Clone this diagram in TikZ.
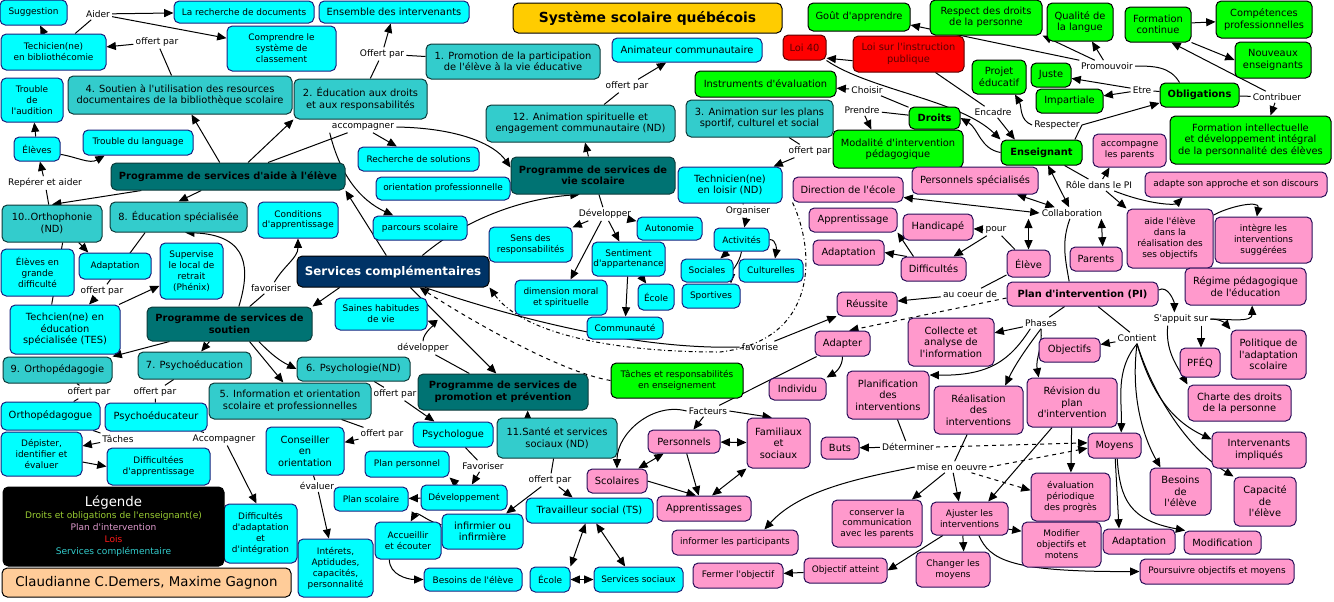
\documentclass[tikz,border=0pt]{standalone}
\usepackage{fontspec}
\setmainfont{DejaVu Sans}[Ligatures=TeXOff]
\usetikzlibrary{arrows.meta,backgrounds}
\definecolor{cyF}{HTML}{00FFFF}
\definecolor{cyD}{HTML}{1A237E}
\definecolor{teF}{HTML}{33CCCC}
\definecolor{teD}{HTML}{0D3B3B}
\definecolor{dtF}{HTML}{007373}
\definecolor{grF}{HTML}{00FF00}
\definecolor{pkF}{HTML}{FF99CC}
\definecolor{pkD}{HTML}{2A0F5A}
\definecolor{rdF}{HTML}{FF0000}
\definecolor{rdT}{HTML}{5A0000}
\definecolor{orF}{HTML}{FFCC00}
\definecolor{nvF}{HTML}{003366}
\definecolor{peF}{HTML}{FFCC99}
\definecolor{lgG}{HTML}{99CC33}
\definecolor{lgP}{HTML}{DD99CC}
\definecolor{lgR}{HTML}{FF1A1A}
\definecolor{lgC}{HTML}{33CCCC}
\newcommand\ftL{\fontsize{7.4}{8.6}\selectfont}
\newcommand\ftS{\fontsize{6.7}{8.2}\selectfont}
\tikzset{
  every node/.style={align=center, inner sep=1pt, font=\ftL},
  bb/.style n args={4}{minimum width={(#2-#1)*0.75pt}, minimum height={(#4-#3)*0.75pt}, at={({(#1+#2)/2},{(#3+#4)/2})}},
  rbox/.style={rounded corners=4pt, line width=0.75pt},
  cy/.style={rbox, fill=cyF, draw=cyD},
  te/.style={rbox, fill=teF, draw=teD},
  dt/.style={rbox, fill=dtF, draw=teD, font=\ftL\bfseries},
  gr/.style={rbox, fill=grF, draw=black},
  pk/.style={rbox, fill=pkF, draw=pkD},
  rd/.style={rbox, fill=rdF, draw=rdT, text=rdT},
  sm/.style={font=\ftS},
  lab/.style={font=\fontsize{6.8}{8}\selectfont, inner sep=1.5pt},
  ln/.style={draw, line width=0.75pt},
  ar/.style={ln, -{Triangle[length=7pt,width=6pt]}},
  ar2/.style={ln, {Triangle[length=7pt,width=6pt]}-{Triangle[length=7pt,width=6pt]}},
}
\begin{document}
\begin{tikzpicture}[x=0.75pt,y=-0.75pt]
\useasboundingbox (0,0) rectangle (1334,601);
% ---------- boxes ----------
\node[cy,sm,bb={0}{67}{0}{25}] (sugg) {Suggestion};
\node[cy,sm,bb={1}{106}{34}{70}] (techbib) {Techicien(ne)\\en bibliothécomie};
\node[cy,sm,bb={174}{314}{1}{23}] (recdoc) {La recherche de documents};
\node[cy,bb={319}{469}{1}{23}] (ensint) {Ensemble des intervenants};
\node[cy,sm,bb={227}{336}{26}{71}] (compr) {Comprendre le\\système de\\classement};
\node[te,bb={68}{292}{76}{114}] (soutien4) {4. Soutien à l'utilisation des resources\\documentaires de la bibliothèque scolaire};
\node[cy,sm,bb={1}{63}{78}{122}] (troubaud) {Trouble\\de\\l'audition};
\node[cy,sm,bb={14}{60}{137}{161}] (eleves) {Élèves};
\node[cy,sm,bb={83}{193}{130}{155}] (troublang) {Trouble du language};
\node[dt,bb={111}{345}{163}{190}] (progaide) {Programme de services d'aide à l'élève};
\node[te,bb={294}{427}{79}{119}] (educ2) {2. Éducation aux droits\\et aux responsabilités};
\node[te,bb={426}{600}{44}{79}] (promo1) {1. Promotion de la participation\\de l'élève à la vie éducative};
\node[cy,sm,bb={358}{479}{147}{171}] (rechsol) {Recherche de solutions};
\node[cy,sm,bb={376}{510}{177}{200}] (orientpro) {orientation professionnelle};
\node[dt,bb={511}{675}{157}{194}] (progvie) {Programme de services de\\vie scolaire};
\node[rbox,fill=orF,draw=black,bb={513}{782}{3}{33},font=\fontsize{10.4}{12}\selectfont\bfseries] (title) {Système scolaire québécois};
\node[cy,bb={612}{762}{38}{62}] (animcom) {Animateur communautaire};
\node[te,bb={486}{675}{105}{142}] (anim12) {12. Animation spirituelle et\\engagement communautaire (ND)};
\node[gr,bb={808}{910}{3}{31}] (gout) {Goût d'apprendre};
\node[gr,bb={930}{1042}{0}{35}] (respect) {Respect des droits\\de la personne};
\node[gr,bb={1047}{1113}{3}{41}] (qualite) {Qualité de\\la langue};
\node[gr,bb={1125}{1191}{7}{42}] (formcont) {Formation\\continue};
\node[gr,bb={1216}{1312}{1}{38}] (compet) {Compétences\\professionnelles};
\node[gr,bb={1235}{1311}{42}{78}] (nouveaux) {Nouveaux\\enseignants};
\node[rd,bb={783}{826}{35}{60}] (loi40) {Loi 40};
\node[rd,bb={853}{964}{36}{72}] (loiinst) {Loi sur l'instruction\\publique};
\node[gr,bb={972}{1026}{60}{94}] (projet) {Projet\\éducatif};
\node[gr,bb={1031}{1071}{63}{87}] (juste) {Juste};
\node[gr,bb={1036}{1103}{89}{113}] (impart) {Impartiale};
\node[gr,bb={1160}{1239}{83}{107},font=\ftL\bfseries] (oblig) {Obligations};
\node[gr,bb={1170}{1331}{116}{164}] (formint) {Formation intellectuelle\\et développement intégral\\de la personnalité des élèves};
\node[gr,bb={695}{836}{71}{97}] (instr) {Instruments d'évaluation};
\node[gr,bb={909}{960}{107}{129},font=\ftL\bfseries] (droits) {Droits};
\node[te,bb={686}{833}{100}{137}] (anim3) {3. Animation sur les plans\\sportif, culturel et social};
\node[gr,bb={833}{963}{130}{168}] (modal) {Modalité d'intervention\\pédagogique};
\node[gr,bb={1001}{1082}{140}{165},font=\ftL\bfseries] (enseig) {Enseignant};
\node[pk,sm,bb={1093}{1166}{134}{167}] (accpar) {accompagne\\les parents};
\node[cy,bb={678}{782}{167}{203}] (techlois) {Technicien(ne)\\en loisir (ND)};
\node[pk,bb={793}{903}{177}{202}] (direction) {Direction de l'école};
\node[pk,bb={912}{1038}{167}{194}] (perspec) {Personnels spécialisés};
\node[pk,sm,bb={1145}{1327}{172}{197}] (adapte) {adapte son approche et son discours};
\node[pk,sm,bb={1127}{1213}{209}{268}] (aideel) {aide l'élève\\dans la\\réalisation des\\ses objectifs};
\node[pk,sm,bb={1215}{1312}{217}{263}] (integre) {intègre les\\interventions\\suggérées};
\node[pk,bb={1070}{1122}{247}{271}] (parents) {Parents};
\node[pk,bb={1007}{1050}{250}{277}] (eleve) {Élève};
\node[pk,bb={1007}{1158}{282}{306},font=\ftL\bfseries] (pi) {Plan d'intervention (PI)};
\node[pk,bb={1185}{1306}{268}{305}] (regime) {Régime pédagogique\\de l'éducation};
\node[pk,bb={1231}{1306}{330}{379}] (politique) {Politique de\\l'adaptation\\scolaire};
\node[pk,bb={1180}{1220}{348}{377}] (pfeq) {PFÉQ};
\node[pk,bb={1039}{1100}{338}{362}] (objectifs) {Objectifs};
\node[pk,bb={1188}{1291}{385}{421}] (charte) {Charte des droits\\de la personne};
\node[pk,bb={1212}{1306}{432}{468}] (intervenants) {Intervenants\\impliqués};
\node[pk,bb={1150}{1211}{468}{515}] (besoins) {Besoins\\de\\l'élève};
\node[pk,bb={1234}{1296}{477}{526}] (capacite) {Capacité\\de\\l'élève};
\node[pk,bb={1184}{1261}{531}{554}] (modification) {Modification};
\node[pk,bb={1103}{1175}{529}{554}] (adaptR) {Adaptation};
\node[pk,bb={1088}{1141}{433}{458}] (moyens) {Moyens};
\node[pk,bb={1027}{1117}{378}{427}] (revision) {Révision du\\plan\\d'intervention};
\node[pk,bb={934}{1023}{386}{434}] (realisation) {Réalisation\\des\\interventions};
\node[pk,bb={908}{994}{318}{366}] (collecte) {Collecte et\\analyse de\\l'information};
\node[pk,bb={847}{929}{371}{419}] (planif) {Planification\\des\\interventions};
\node[pk,sm,bb={1031}{1110}{473}{521}] (evalper) {évaluation\\périodique\\des progrès};
\node[pk,sm,bb={1022}{1101}{522}{567}] (modifier) {Modifier\\objectifs et\\motens};
\node[pk,sm,bb={1140}{1294}{559}{584}] (poursuivre) {Poursuivre objectifs et moyens};
\node[pk,sm,bb={931}{1008}{502}{535}] (ajuster) {Ajuster les\\interventions};
\node[pk,sm,bb={916}{990}{552}{587}] (changer) {Changer les\\moyens};
\node[pk,sm,bb={832}{922}{500}{547}] (conserver) {conserver la\\communication\\avec les parents};
\node[pk,sm,bb={804}{887}{558}{583}] (objatt) {Objectif atteint};
\node[pk,sm,bb={693}{783}{563}{588}] (fermer) {Fermer l'objectif};
\node[pk,sm,bb={672}{798}{530}{555}] (informer) {informer les participants};
\node[pk,bb={821}{859}{437}{459}] (buts) {Buts};
\node[pk,bb={648}{720}{430}{453}] (personnels) {Personnels};
\node[pk,bb={747}{810}{418}{468}] (familiaux) {Familiaux\\et\\sociaux};
\node[pk,bb={587}{647}{469}{493}] (scolaires) {Scolaires};
\node[pk,bb={657}{751}{496}{521}] (apprentissages) {Apprentissages};
\node[pk,bb={769}{826}{378}{400}] (individu) {Individu};
\node[pk,bb={815}{870}{331}{356}] (adapter) {Adapter};
\node[pk,bb={837}{897}{292}{316}] (reussite) {Réussite};
\node[pk,bb={903}{973}{214}{240}] (handicap) {Handicapé};
\node[pk,bb={809}{897}{208}{232}] (apprent) {Apprentissage};
\node[pk,bb={813}{884}{240}{265}] (adaptL) {Adaptation};
\node[pk,bb={901}{966}{257}{281}] (difficultes) {Difficultés};
\node[gr,sm,bb={611}{743}{363}{398}] (taches) {Tâches et responsabilités\\en enseignement};
\node[cy,sm,bb={714}{769}{228}{251}] (activites) {Activités};
\node[cy,sm,bb={637}{702}{217}{240}] (autonomie) {Autonomie};
\node[cy,sm,bb={489}{572}{227}{262}] (sensresp) {Sens des\\responsabilités};
\node[cy,sm,bb={592}{665}{242}{276}] (sentiment) {Sentiment\\d'appartenance};
\node[cy,sm,bb={638}{674}{284}{310}] (ecoleA) {École};
\node[cy,sm,bb={681}{733}{259}{282}] (sociales) {Sociales};
\node[cy,sm,bb={739}{803}{259}{282}] (culturelles) {Culturelles};
\node[cy,sm,bb={682}{740}{284}{308}] (sportives) {Sportives};
\node[cy,sm,bb={515}{607}{280}{315}] (dimension) {dimension moral\\et spirituelle};
\node[cy,sm,bb={587}{663}{317}{339}] (communaute) {Communauté};
\node[cy,sm,bb={373}{467}{216}{240}] (parcours) {parcours scolaire};
\node[rbox,fill=nvF,draw=black,text=white,bb={297}{489}{256}{287},font=\fontsize{8.9}{10}\selectfont\bfseries] (servcomp) {Services complémentaires};
\node[cy,sm,bb={335}{427}{298}{330}] (saines) {Saines habitudes\\de vie};
\node[dt,bb={418}{588}{374}{410}] (progpromo) {Programme de services de\\promotion et prévention};
\node[te,bb={497}{617}{418}{458}] (sante11) {11.Santé et services\\sociaux (ND)};
\node[cy,bb={413}{493}{422}{447}] (psychologue) {Psychologue};
\node[cy,bb={266}{344}{427}{475}] (conseiller) {Conseiller\\en\\orientation};
\node[cy,sm,bb={365}{449}{451}{477}] (planperso) {Plan personnel};
\node[cy,sm,bb={421}{507}{485}{510}] (developpement) {Développement};
\node[cy,sm,bb={334}{408}{487}{511}] (planscol) {Plan scolaire};
\node[cy,bb={442}{523}{514}{549}] (infirmier) {infirmier ou\\infirmière};
\node[cy,sm,bb={375}{441}{522}{559}] (accueillir) {Accueillir\\et écouter};
\node[cy,sm,bb={424}{522}{568}{591}] (besoinsC) {Besoins de l'élève};
\node[cy,bb={526}{653}{498}{523}] (ts) {Travailleur social (TS)};
\node[cy,sm,bb={530}{570}{567}{592}] (ecoleB) {École};
\node[cy,sm,bb={594}{683}{567}{592}] (servsoc) {Services sociaux};
\node[cy,sm,bb={298}{373}{539}{597}] (interets) {Intérets,\\Aptidudes,\\capacités,\\personnalité};
\node[cy,sm,bb={224}{297}{504}{563}] (diffadapt) {Difficultés\\d'adaptation\\et\\d'intégration};
\node[te,bb={209}{371}{383}{419}] (info5) {5. Information et orientation\\scolaire et professionnelles};
\node[te,bb={297}{410}{357}{381}] (psycho6) {6. Psychologie(ND)};
\node[te,bb={138}{251}{352}{379}] (psychoed7) {7. Psychoéducation};
\node[te,bb={3}{112}{357}{383}] (orthoped9) {9. Orthopédagogie};
\node[dt,bb={147}{312}{307}{341}] (progsout) {Programme de services de\\soutien};
\node[cy,bb={10}{120}{305}{354}] (tes) {Techcien(ne) en\\éducation\\spécialisée (TES)};
\node[cy,sm,bb={160}{223}{243}{299}] (supervise) {Supervise\\le local de\\retrait\\(Phénix)};
\node[cy,sm,bb={79}{151}{253}{279}] (adaptC) {Adaptation};
\node[cy,sm,bb={1}{74}{249}{296}] (elevesgd) {Élèves en\\grande\\difficulté};
\node[te,bb={2}{102}{205}{242}] (ortho10) {10..Orthophonie\\(ND)};
\node[te,bb={110}{247}{202}{232}] (educspe8) {8. Éducation spécialisée};
\node[cy,sm,bb={258}{338}{202}{238}] (conditions) {Conditions\\d'apprentissage};
\node[cy,bb={1}{100}{402}{430}] (orthopedagogue) {Orthopédagogue};
\node[cy,bb={105}{207}{403}{431}] (psychoeducateur) {Psychoéducateur};
\node[cy,sm,bb={1}{82}{432}{476}] (depister) {Dépister,\\identifier et\\évaluer};
\node[cy,sm,bb={107}{210}{448}{485}] (diffapp) {Difficultées\\d'apprentissage};
\node[rbox,fill=black,draw=black,bb={3}{224}{487}{566},font=\fontsize{6.8}{9}\selectfont] (legend) {{\fontsize{10}{12}\selectfont\color{white}Légende}\\{\color{lgG}Droits et obligations de l'enseignant(e)}\\{\color{lgP}Plan d'intervention}\\{\color{lgR}Lois}\\{\color{lgC}Services complémentaire}};
\node[rbox,fill=peF,draw=black,bb={2}{291}{568}{597},font=\fontsize{10}{12}\selectfont] (authors) {Claudianne C.Demers, Maxime Gagnon};
% ---------- linking phrases ----------
\node[lab] (aider) at (98,14) {Aider};
\node[lab] (offbib) at (157,42) {offert par};
\node[lab] (reperer) at (45,183) {Repérer et aider};
\node[lab] (offens) at (382,54) {Offert par};
\node[lab] (accomp) at (363,127) {accompagner};
\node[lab] (offanim) at (627,86) {offert par};
\node[lab] (promouv) at (1107,66) {Promouvoir};
\node[lab] (etre) at (1142,90) {Etre};
\node[lab] (contrib) at (1277,97) {Contribuer};
\node[lab] (choisir) at (867,90) {Choisir};
\node[lab] (prendre) at (862,110) {Prendre};
\node[lab] (encadre) at (993,112) {Encadre};
\node[lab] (respecter) at (1057,125) {Respecter};
\node[lab] (offloisir) at (810,151) {offert par};
\node[lab] (role) at (1099,185) {Rôle dans le PI};
\node[lab] (collab) at (1072,213) {Collaboration};
\node[lab] (appuit) at (1181,319) {S'appuit sur};
\node[lab] (contient) at (1137,338) {Contient};
\node[lab] (phases) at (1041,323) {Phases};
\node[lab] (miseoeuvre) at (952,467) {mise en oeuvre};
\node[lab] (determiner) at (908,447) {Déterminer};
\node[lab] (facteurs) at (708,411) {Facteurs};
\node[lab] (coeur) at (970,294) {au coeur de};
\node[lab] (pour) at (996,230) {pour};
\node[lab] (favorise) at (760,347) {favorise};
\node[lab] (organiser) at (748,211) {Organiser};
\node[lab] (developper) at (605,214) {Développer};
\node[lab] (devlabel) at (423,348) {développer};
\node[lab] (offpsy) at (395,394) {offert par};
\node[lab] (offcons) at (382,434) {offert par};
\node[lab] (favoriserP) at (483,466) {Favoriser};
\node[lab] (offts) at (550,480) {offert par};
\node[lab] (evaluer) at (317,486) {évaluer};
\node[lab] (accompB) at (224,439) {Accompagner};
\node[lab] (favoriserS) at (271,288) {favoriser};
\node[lab] (offtes) at (102,291) {offert par};
\node[lab] (off9) at (89,392) {offert par};
\node[lab] (off7) at (155,392) {offert par};
\node[lab] (tachesL) at (118,439) {Tâches};
% ---------- connectors ----------
\begin{pgfonlayer}{background}
\fill[white] (0,0) rectangle (1334,601);
\draw[ar] (techbib) -- (sugg);
\draw[ln] (techbib) -- (aider);
\draw[ar] (aider) -- (recdoc);
\draw[ar] (aider) -- (compr);
\draw[ln] (soutien4) -- (offbib);
\draw[ar] (offbib) -- (techbib);
\draw[ar] (progaide) -- (soutien4);
\draw[ar] ([xshift=15pt]progaide.north) -- (educ2.south west);
\draw[ln] ([xshift=30pt]progaide.north) -- (accomp);
\draw[ar] (accomp) -- (rechsol);
\draw[ar] (accomp.east) .. controls (460,128) and (495,145) .. ([yshift=6pt]progvie.west);
\draw[ar] (accomp.south west) .. controls (340,175) and (360,200) .. ([xshift=-20pt]parcours.north);
\draw[ar] ([xshift=-5pt]servcomp.north) -- (progaide.south east);
\draw[ar] ([xshift=22pt]servcomp.north) .. controls (470,215) and (530,198) .. ([xshift=-10pt]progvie.south);
\draw[ar] (progvie) -- (anim12);
\draw[ln] (anim12) -- (offanim);
\draw[ar] (offanim) -- (animcom);
\draw[ln] (educ2) -- (offens);
\draw[ar] (offens) -- (ensint);
\draw[ln] (promo1) -- (offens);
\draw[ln] (anim3) -- (offloisir);
\draw[ar] (offloisir) -- (techlois);
\draw[ln] (progvie) -- (developper);
\draw[ar] (developper) -- (sensresp);
\draw[ar] (developper) -- (dimension);
\draw[ar] (developper) -- (sentiment);
\draw[ar] (developper) -- (autonomie);
\draw[ln] (techlois) -- (organiser);
\draw[ar] (organiser) -- (activites);
\draw[ar] (activites) -- (sociales);
\draw[ar] (activites.south) to[out=-100,in=90] ([xshift=15pt]sportives.north);
\draw[ar] (activites.east) to[out=0,in=80] ([xshift=3pt]culturelles.north);
\draw[ar] (sentiment) -- (communaute);
\draw[ar] (sentiment) -- (ecoleA);
\draw[ar,dash dot] (direction.south west) .. controls (815,250) and (820,340) .. (720,352) .. controls (600,352) and (520,330) .. (servcomp.south east);
\draw[ln] ([xshift=24pt]servcomp.south) .. controls (520,320) and (640,350) .. (favorise.west);
\draw[ar] (favorise) -- (reussite);
\draw[ar,dashed] (taches.west) .. controls (560,372) and (470,320) .. ([xshift=20pt]servcomp.south);
\draw[ar] ([xshift=13pt]servcomp.south) -- ([xshift=-5pt]progpromo.north);
\draw[ln] (progpromo) -- (devlabel);
\draw[ar] (devlabel.north) to[out=90,in=-20] ([yshift=-5pt]saines.east);
\draw[ar] ([xshift=-40pt]servcomp.south) -- (progsout.north east);
\draw[ln] (progsout) -- (favoriserS);
\draw[ar] (favoriserS) to[out=60,in=-90] (conditions.south);
\draw[ar] ([xshift=7pt]progsout.north) .. controls (250,270) and (250,235) .. ([xshift=5pt]educspe8.south);
\draw[ar] ([xshift=-45pt]progsout.south) -- (orthoped9.north east);
\draw[ar] ([xshift=-15pt]progsout.south) -- ([xshift=5pt]psychoed7.north);
\draw[ar] ([xshift=22pt]progsout.south) to[bend right=10] (psycho6.west);
\draw[ar] ([xshift=15pt]progsout.south) -- ([xshift=-5pt]info5.north);
\draw[ln] ([xshift=-25pt]educspe8.south) -- (offtes);
\draw[ar] (offtes) -- (tes);
\draw[ar] (tes) -- (supervise);
\draw[ar] ([xshift=20pt]ortho10.south) -- ([xshift=-20pt]adaptC.north);
\draw[ln] ([xshift=8pt]ortho10.south) -- ([xshift=-10pt]tes.north);
\draw[ar] ([xshift=-65pt]progaide.south) -- (ortho10.north);
\draw[ar] ([xshift=-20pt]progaide.south) -- (educspe8.north);
\draw[ln] (ortho10) -- (reperer);
\draw[ar] (reperer) -- (eleves);
\draw[ar] (eleves) -- (troubaud);
\draw[ar] ([yshift=-4pt]eleves.east) to[out=-10,in=-150] ([xshift=-25pt]troublang.south);
\draw[ln] (orthoped9) -- (off9);
\draw[ln] (off9) -- (orthopedagogue);
\draw[ln] (psychoed7) -- (off7);
\draw[ln] (off7) -- (psychoeducateur);
\draw[ln] (orthopedagogue) -- (tachesL);
\draw[ar] (tachesL) -- (depister);
\draw[ar] ([yshift=-6pt]depister.east) -- (diffapp.west);
\draw[ln] (psychoeducateur) -- (accompB);
\draw[ar] (accompB) -- ([xshift=-3pt]diffadapt.north);
\draw[ln] (info5) -- (offcons);
\draw[ar] (offcons) -- (conseiller);
\draw[ln] (conseiller) -- (evaluer);
\draw[ar] (evaluer) -- (interets);
\draw[ln] (psycho6) -- (offpsy);
\draw[ar] (offpsy) -- (psychologue);
\draw[ln] (psychologue) -- (favoriserP);
\draw[ar] (favoriserP) -- (developpement);
\draw[ar] ([xshift=-5pt]developpement.north) -- (planperso.south east);
\draw[ar] (developpement) -- (planscol);
\draw[ar] ([xshift=-22pt]sante11.north) -- ([xshift=-22pt]sante11.north |- progpromo.south);
\draw[ln] (sante11) -- (offts);
\draw[ar] (offts) -- (infirmier);
\draw[ar] (offts) -- (ts);
\draw[ar] ([yshift=5pt]infirmier.west) to[out=170,in=60] ([xshift=2pt]accueillir.north);
\draw[ar] ([xshift=-14pt]accueillir.south) to[out=-90,in=180] (besoinsC.west);
\draw[ar2] ([xshift=-3pt]ts.south) -- (ecoleB.north east);
\draw[ar2] ([xshift=5pt]ts.south) -- ([xshift=-10pt]servsoc.north);
\draw[ar2] (ecoleB) -- (servsoc);
% plan d'intervention
\draw[ln] (pi) -- (phases);
\draw[ar] (phases) -- (collecte);
\draw[ar] ([xshift=-8pt]phases.south) .. controls (1010,360) and (990,376) .. ([yshift=15pt]planif.east);
\draw[ar] (phases.south) .. controls (1025,350) and (1015,365) .. ([xshift=20pt]realisation.north);
\draw[ar] (phases.south) to[out=-85,in=100] ([xshift=-25pt]revision.north);
\draw[ln] (pi) -- (contient);
\draw[ar] (contient) -- (objectifs);
\draw[ar] (contient.south) .. controls (1115,370) and (1122,400) .. ([xshift=5pt]moyens.north);
\draw[ar] (contient.south) .. controls (1130,400) and (1145,440) .. ([xshift=-15pt]besoins.north);
\draw[ar] (contient.south) .. controls (1150,390) and (1170,420) .. ([yshift=8pt]intervenants.west);
\draw[ar] (contient.south) .. controls (1155,400) and (1190,450) .. (capacite.north west);
\draw[ar] ([yshift=3pt]pi.east) to[out=30,in=90] ([xshift=-5pt]appuit.north);
\draw[ar] ([xshift=15pt]appuit.south) -- ([xshift=15pt]appuit.south |- pfeq.north);
\draw[ar] (appuit.east) to[out=0,in=130] (politique.north west);
\draw[ar] (appuit.east) to[out=0,in=-90] ([xshift=5pt]regime.south);
\draw[ar] ([xshift=-10pt]appuit.south) to[out=-95,in=120] (charte.north west);
\draw[ln] (enseig) -- (role);
\draw[ar] (role) -- ([xshift=-15pt]accpar.south);
\draw[ar] (role) .. controls (1150,205) and (1175,205) .. ([xshift=-40pt]adapte.south);
\draw[ar] (role) -- (aideel.north west);
\draw[ar] ([yshift=-5pt]aideel.north east) to[out=30,in=80] ([xshift=-5pt]integre.north);
\draw[ar2] ([yshift=-6pt]direction.east) -- (collab.west);
\draw[ar2] (perspec) -- (collab);
\draw[ar2] (enseig) -- (collab);
\draw[ar2] (eleve.north) -- (eleve.north |- collab.south);
\draw[ar2] ([xshift=22pt]collab.south) -- ([xshift=5pt]parents.north);
\draw[ln] (collab) to[out=-110,in=100] ([xshift=-10pt]pi.north);
\draw[ln] (eleve) -- (pour);
\draw[ar] (pour) -- (handicap);
\draw[ar] (pour) -- (difficultes);
\draw[ar] ([xshift=-15pt]difficultes.north) -- (apprent.south east);
\draw[ar] ([xshift=-20pt]difficultes.north) -- (adaptL.east);
\draw[ln] (eleve) -- (coeur);
\draw[ar] (coeur) -- (reussite);
\draw[ar,dashed] ([yshift=-3pt]pi.west) -- ([xshift=5pt]adapter.north);
\draw[ar] (adapter.south) to[out=-90,in=30] (individu.north east);
\draw[ln] (adapter) -- (facteurs);
\draw[ar] (facteurs) -- (personnels);
\draw[ar] (facteurs.west) to[out=165,in=90] (scolaires.north);
\draw[ar] (facteurs.east) -- ([xshift=-5pt]familiaux.north);
\draw[ar2] (personnels) -- (familiaux);
\draw[ar2] (scolaires) -- (personnels);
\draw[ar] ([xshift=2pt]personnels.south) -- ([xshift=-4pt]apprentissages.north);
\draw[ar] (scolaires.east) -- ([xshift=-6pt]apprentissages.north);
\draw[ar2] (familiaux.south west) -- ([xshift=6pt]apprentissages.north);
\draw[ln] (planif) -- (determiner);
\draw[ar] (determiner) -- (buts);
\draw[ar,dashed] (determiner.east) -- ([yshift=2pt]moyens.west);
\draw[ln] (realisation) -- (miseoeuvre);
\draw[ar] (miseoeuvre) -- ([xshift=-8pt]conserver.north east);
\draw[ar] (miseoeuvre) -- ([xshift=-8pt]ajuster.north);
\draw[ar] (miseoeuvre.west) .. controls (860,478) and (800,490) .. ([xshift=22pt]informer.north);
\draw[ar,dashed] (miseoeuvre.east) -- ([yshift=-2pt]moyens.west);
\draw[ar,dashed] (miseoeuvre) -- ([yshift=5pt]evalper.west);
\draw[ar] ([xshift=-15pt]revision.south) -- ([xshift=14pt]ajuster.north);
\draw[ar] (revision) -- (evalper);
\draw[ar] (moyens) -- ([xshift=-15pt]adaptR.north);
\draw[ar] ([xshift=2pt]moyens.south) .. controls (1120,500) and (1130,520) .. ([xshift=-28pt]modification.north);
\draw[ar] ([xshift=-5pt]ajuster.south) -- ([xshift=8pt]changer.north);
\draw[ar] ([xshift=-20pt]ajuster.south) -- (objatt.east);
\draw[ar] ([yshift=-8pt]ajuster.east) -- ([yshift=10pt]modifier.west);
\draw[ar] ([xshift=7pt]ajuster.south) .. controls (990,560) and (1010,572) .. (poursuivre.west);
\draw[ar] (objatt) -- (fermer);
% droits et obligations
\draw[ar] ([yshift=-5pt]loiinst.west) -- ([yshift=-8pt]loi40.east);
\draw[ln] (loiinst) -- (encadre);
\draw[ar] (encadre) -- ([xshift=-20pt]enseig.north);
\draw[ar] (loi40.south east) .. controls (870,90) and (960,100) .. (enseig.north west);
\draw[ar] (enseig.west) to[out=170,in=-30] (droits.east);
\draw[ln] (droits) -- (choisir);
\draw[ar] (choisir) -- (instr);
\draw[ln] (droits) -- (prendre);
\draw[ar] (prendre) -- ([xshift=-20pt]modal.north);
\draw[ln] ([xshift=25pt]enseig.north) -- (respecter.east);
\draw[ar] (respecter.east) -- ([yshift=-6pt]oblig.west);
\draw[ar] (respecter.west) to[out=160,in=-60] ([xshift=12pt]projet.south);
\draw[ln] (oblig) -- (etre);
\draw[ar] (etre) -- (juste);
\draw[ar] (etre) -- (impart);
\draw[ln] ([xshift=-15pt]oblig.north) to[out=120,in=0] (promouv.east);
\draw[ar] (promouv) -- ([yshift=-6pt]gout.east);
\draw[ar] (promouv) -- (respect.south east);
\draw[ar] (promouv) -- (qualite);
\draw[ln] (oblig) -- (contrib);
\draw[ar] (contrib) -- ([xshift=10pt]formcont.south);
\draw[ar] (contrib) -- ([xshift=15pt]formint.north);
\draw[ar] (formcont) -- (compet);
\draw[ar] (formcont.south east) -- (nouveaux.west);
\end{pgfonlayer}
\end{tikzpicture}
\end{document}
